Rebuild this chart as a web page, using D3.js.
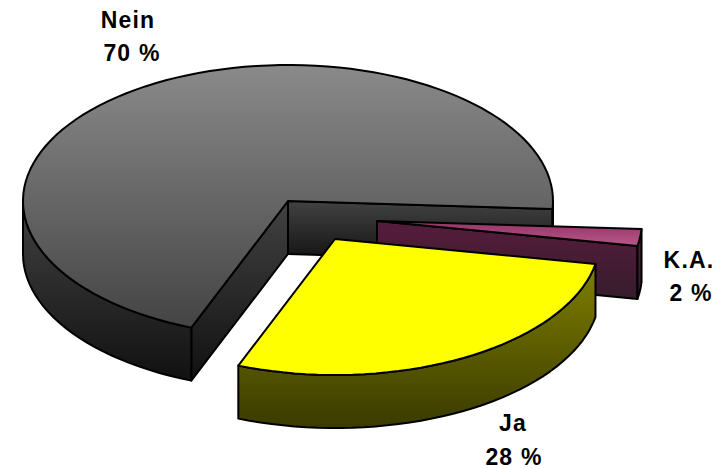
<!DOCTYPE html>
<html><head><meta charset="utf-8">
<script src="https://cdn.jsdelivr.net/npm/d3@7"></script>
<style>html,body{margin:0;background:#fff}svg{display:block}text{font-family:"Liberation Sans",Arial,sans-serif;font-weight:bold;font-size:23px;letter-spacing:1.2px;fill:#000;text-anchor:middle}</style>
</head><body><div id="c"></div>
<script>
const categories = ["K.A.", "Ja", "Nein"];
const values = [2, 28, 70];
const valueLabels = ["2 %", "28 %", "70 %"];

const W = 724, H = 469;
const cx = 288, cy = 201, rx = 265, ry = 136, depth = 53;
const startDeg = 93.4;
const explode = {"Nein":[0,0], "Ja":[47,38], "K.A.":[89,20]};
const labelPos = {"Nein":[[128,28],[132,61]], "Ja":[[513,431],[514,465]], "K.A.":[[689,268],[691,301]]};
const fills = {
  "Nein":{top:["#8a8a8a","#444444"], side:["#424242","#111111"]},
  "Ja":{top:["#ffff00","#ffff00"], side:["#808000","#3a3a00"]},
  "K.A.":{top:["#993366","#b5578a"], side:["#561c3c","#361c2c"]}
};

const svg = d3.select("#c").append("svg").attr("width",W).attr("height",H);
const defs = svg.append("defs");
function grad(id,c){
  const g = defs.append("linearGradient").attr("id",id).attr("x1",0).attr("y1",0).attr("x2",0).attr("y2",1);
  g.append("stop").attr("offset",0).attr("stop-color",c[0]);
  g.append("stop").attr("offset",1).attr("stop-color",c[1]);
}
const pie = d3.pie().sort(null).startAngle(startDeg*Math.PI/180).endAngle((startDeg+360)*Math.PI/180);
const arcs = pie(values).map((d,i)=>({name:categories[i],label:valueLabels[i],start:d.startAngle,end:d.endAngle}));
const sx = d3.scaleLinear().domain([-1,1]).range([cx-rx,cx+rx]);
const sy = d3.scaleLinear().domain([-1,1]).range([cy-ry,cy+ry]);
const line = d3.line();
const draw = (p,pts,fillId)=>p.append("path").attr("d",line(pts)+"Z").attr("fill",`url(#${fillId})`)
  .attr("stroke","#000").attr("stroke-width",2).attr("stroke-linejoin","round");

function arcPts(a0,a1,dx,dy,dz){
  const n = Math.max(2,Math.ceil((a1-a0)/0.045));
  return d3.range(n+1).map(i=>{
    const t=a0+(a1-a0)*i/n;
    return [sx(Math.sin(t))+dx, sy(-Math.cos(t))+dy+dz];
  });
}
function slice(a){
  const [dx,dy]=explode[a.name];
  const g=svg.append("g");
  const f=fills[a.name];
  const id=a.name.replace(/\W/g,"");
  grad(id+"T",f.top); grad(id+"S",f.side);
  const c=[cx+dx,cy+dy];
  const rim=(t)=>[sx(Math.sin(t))+dx,sy(-Math.cos(t))+dy];
  const faces=[];
  if(a.name==="Nein"){faces.push(a.end,a.start);}
  if(a.name==="K.A."){faces.push(a.end);}
  faces.forEach(t=>{
    const r=rim(t);
    draw(g,[c,r,[r[0],r[1]+depth],[c[0],c[1]+depth]],id+"S");
  });
  const tau=2*Math.PI;
  [[Math.PI/2,1.5*Math.PI],[Math.PI/2+tau,1.5*Math.PI+tau]].forEach(([lo,hi])=>{
    const a0=Math.max(a.start,lo),a1=Math.min(a.end,hi);
    if(a1>a0) draw(g,arcPts(a0,a1,dx,dy,0).concat(arcPts(a0,a1,dx,dy,depth).reverse()),id+"S");
  });
  draw(g,[c].concat(arcPts(a.start,a.end,dx,dy,0)),id+"T");
}
["Nein","K.A.","Ja"].forEach(n=>slice(arcs.find(a=>a.name===n)));

arcs.forEach(a=>{
  const p=labelPos[a.name];
  svg.append("text").attr("x",p[0][0]).attr("y",p[0][1]).text(a.name);
  svg.append("text").attr("x",p[1][0]).attr("y",p[1][1]).text(a.label);
});
</script></body></html>
